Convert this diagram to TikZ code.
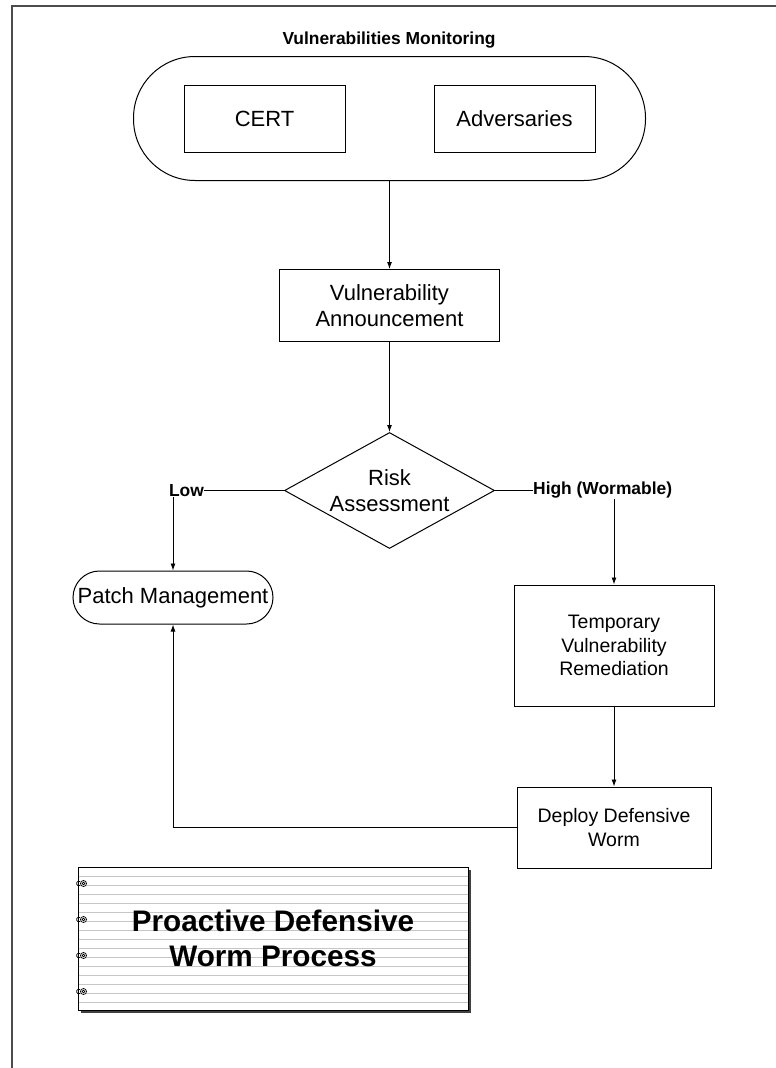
\documentclass[tikz,border=0pt]{standalone}
\usepackage{fontspec}
\setmainfont{Liberation Sans}
\usepackage{tikz}
\usetikzlibrary{positioning,arrows.meta,shapes.geometric,fit,shadows}

\begin{document}
\begin{tikzpicture}[x=1pt,y=1pt,
  box/.style={draw,line width=1pt,inner sep=0pt,align=center,font=\fontsize{22}{26}\selectfont},
  tag/.style={inner sep=0pt,font=\bfseries\fontsize{17.4}{20}\selectfont},
  arr/.style={-{Latex[length=7pt,width=5pt]},line width=0.9pt}
]
\useasboundingbox (0,0) rectangle (776,-1068);
\draw[line width=1.5pt,black!70] (12,-1068) -- (12,-6) -- (776,-6);

\node[box,minimum width=161pt,minimum height=67pt] (cert) at (264.5,-118.5) {CERT};
\node[box,minimum width=161pt,minimum height=67pt,right=88pt of cert] (adv) {Adversaries};
\node[draw,line width=1pt,rounded corners=61.5pt,fit=(cert)(adv),inner xsep=50pt,inner ysep=28pt] (mon) {};
\node[tag] (montitle) at (389,-40) {Vulnerabilities Monitoring};

\node[box,minimum width=220pt,minimum height=72pt,below=88pt of mon] (ann) {Vulnerability\\Announcement};
\node[box,diamond,aspect=1.81,minimum width=210pt,minimum height=116pt,below=90pt of ann] (risk) {Risk\\Assessment};
\node[tag,left=80pt of risk] (low) {Low};
\node[tag,right=38pt of risk] (high) {High (Wormable)};

\node[box,rounded corners=26.5pt,minimum width=200pt,minimum height=53pt] (pm) at (173,-597.5) {Patch Management};
\node[box,font=\fontsize{19.5}{23.3}\selectfont,minimum width=200pt,minimum height=121pt] (temp) at (614,-645.5) {Temporary\\Vulnerability\\Remediation};
\node[box,font=\fontsize{19.5}{23.3}\selectfont,minimum width=194pt,minimum height=81pt,below=80pt of temp] (deploy) {Deploy Defensive\\Worm};

\draw[arr] (mon) -- (ann);
\draw[arr] (ann) -- (risk);
\draw[line width=0.9pt] (risk) -- (low);
\draw[line width=0.9pt] (risk) -- (high);
\draw[arr] (low.south -| pm.north) -- (pm.north);
\draw[arr] (high.south -| temp.north) -- (temp.north);
\draw[arr] (temp) -- (deploy);
\draw[arr] (deploy.west) -| (pm.south);

% notebook title
\node[draw,line width=1pt,fill=white,minimum width=390pt,minimum height=143pt,align=center,
  drop shadow={shadow xshift=3pt,shadow yshift=-3pt,fill=black!75,opacity=1},
  path picture={\foreach \k in {1,...,15}{\draw[gray!45,line width=1pt] ([yshift=-\k*9pt]path picture bounding box.north west) -- ([yshift=-\k*9pt]path picture bounding box.north east);}},
  font=\bfseries\fontsize{29.7}{35}\selectfont] (nb) at (273,-938.5) {Proactive Defensive\\Worm Process};
\foreach \dy in {17,53,89,125}{
  \draw[line width=0.7pt,fill=white] ([shift={(6,-\dy)}]nb.north west) circle[radius=3];
  \draw[line width=0.7pt] ([shift={(6,-\dy)}]nb.north west) circle[radius=1.3];
  \draw[line width=0.7pt] ([shift={(2.5,-\dy+2)}]nb.north west) arc[start angle=60,end angle=300,radius=2.3];
}
\end{tikzpicture}
\end{document}
